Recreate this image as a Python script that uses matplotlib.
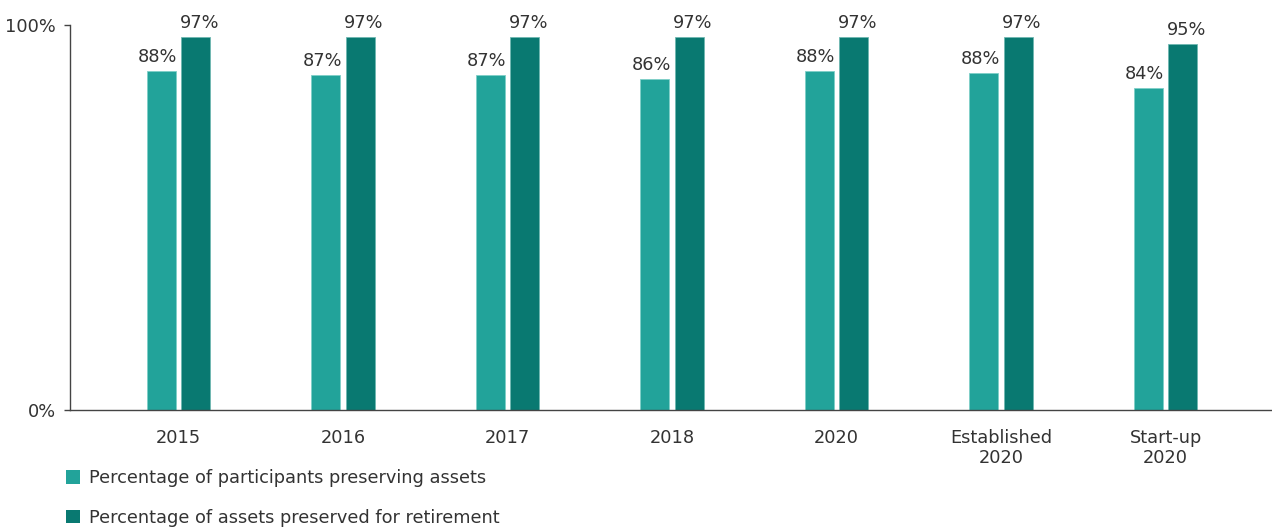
import matplotlib
matplotlib.use("Agg")
import matplotlib.pyplot as plt
from matplotlib.patches import Patch
import numpy as np

categories = ["2015", "2016", "2017", "2018", "2020", "Established\n2020", "Start-up\n2020"]
participants = [88, 87, 87, 86, 88, 87.6, 83.6]
assets = [97, 97, 97, 97, 97, 97, 95]
series_names = ["Percentage of participants preserving assets",
                "Percentage of assets preserved for retirement"]
y_ticks = [0, 100]
y_tick_labels = ["0%", "100%"]

light = "#22A39A"
dark = "#097971"
text_c = "#333333"

plt.rcParams['font.family'] = ['DejaVu Sans']
fs = 12.8
plt.rcParams['font.size'] = fs

W, H = 1272, 527
fig = plt.figure(figsize=(W / 100, H / 100), dpi=100)
ax = fig.add_axes([70 / W, (H - 410) / H, 1202 / W, 385 / H])

x = np.arange(len(categories))
bw = 0.176
off = 0.105
b1 = ax.bar(x - off, participants, bw, color=light, edgecolor="#7fcfc8", linewidth=0.6)
b2 = ax.bar(x + off, assets, bw, color=dark, edgecolor="#6fb8b2", linewidth=0.6)

for rect, v in zip(b1, participants):
    ax.annotate(f"{round(v)}%", (rect.get_x() + rect.get_width() / 2, rect.get_height()),
                xytext=(-2.5, 3.5), textcoords="offset points", ha="center", va="bottom",
                color=text_c, fontsize=fs, annotation_clip=False)
for rect, v in zip(b2, assets):
    ax.annotate(f"{round(v)}%", (rect.get_x() + rect.get_width() / 2, rect.get_height()),
                xytext=(2.5, 3.5), textcoords="offset points", ha="center", va="bottom",
                color=text_c, fontsize=fs, annotation_clip=False)

ax.set_xlim(-0.66, 6.647)
ax.set_ylim(0, 100)
ax.set_xticks(x)
ax.set_xticklabels(categories, color=text_c, fontsize=fs, linespacing=1.08)
ax.tick_params(axis="x", length=0, pad=14)
ax.set_yticks(y_ticks)
ax.set_yticklabels(y_tick_labels, color=text_c, fontsize=fs)
ax.tick_params(axis="y", length=4, width=1, color="#444444", pad=6)
for s in ["top", "right"]:
    ax.spines[s].set_visible(False)
for s in ["left", "bottom"]:
    ax.spines[s].set_color("#444444")
    ax.spines[s].set_linewidth(1)

handles = [Patch(facecolor=light, edgecolor="none"), Patch(facecolor=dark, edgecolor="none")]
fig.legend(handles, series_names, loc="upper left", bbox_to_anchor=(61 / W, 1 - 464 / H),
           frameon=False, handlelength=0.78, handleheight=0.78, handletextpad=0.5,
           labelspacing=1.2, fontsize=fs, labelcolor=text_c, borderaxespad=0, borderpad=0.3)

fig.savefig("out.png", dpi=100)
